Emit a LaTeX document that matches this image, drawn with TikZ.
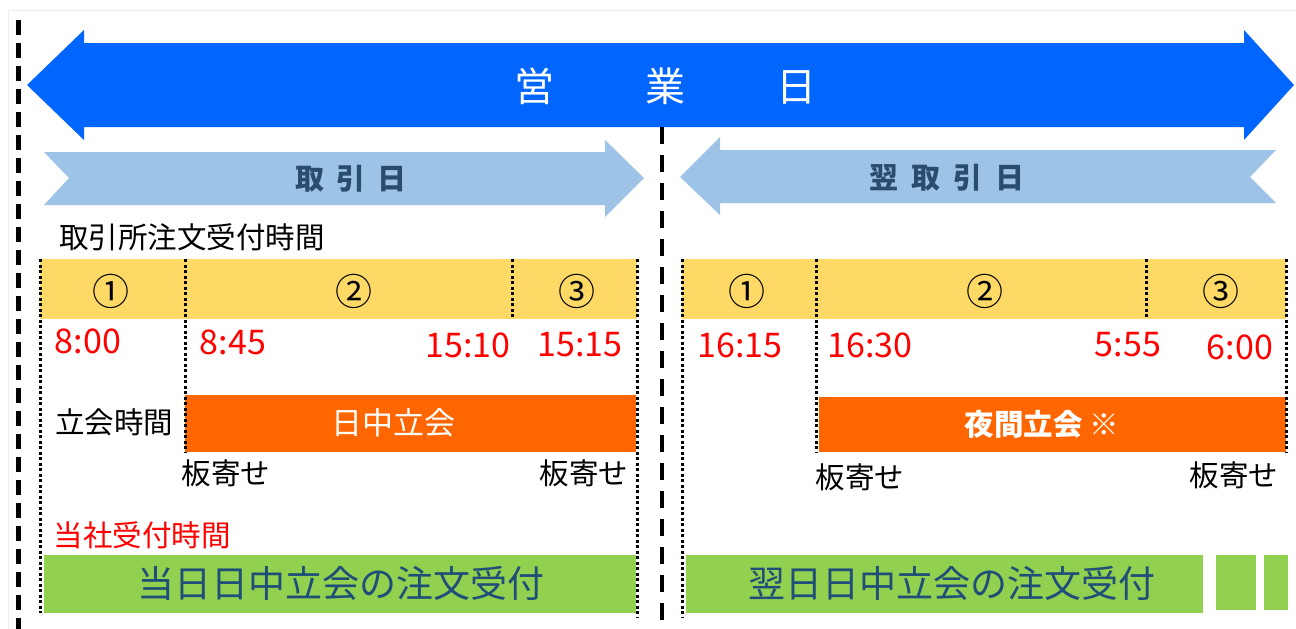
\documentclass[tikz,border=0pt]{standalone}
\usepackage{fontspec}
\newfontfamily\jp{Noto Sans CJK JP}
\definecolor{bigblue}{HTML}{0066FF}
\definecolor{lightblue}{HTML}{9DC3E6}
\definecolor{arrowtxt}{HTML}{2A4D6E}
\definecolor{barYellow}{HTML}{FFD966}
\definecolor{barOrange}{HTML}{FF6600}
\definecolor{barGreen}{HTML}{92D050}
\definecolor{greentxt}{HTML}{1F4E79}
\definecolor{timered}{HTML}{FF0000}
\tikzset{
  lbl/.style={inner sep=0pt, font=\jp\fontsize{29.5}{32}\selectfont},
  timelbl/.style={inner sep=0pt, text=timered, font=\jp\fontsize{34}{36}\selectfont},
  circnum/.style={inner sep=0pt, font=\jp\fontsize{37}{40}\selectfont},
  arrowlbl/.style={inner sep=0pt, text=arrowtxt, font=\jp\bfseries\fontsize{29}{32}\selectfont},
  yellowbar/.style={fill=barYellow, draw=none, inner sep=0pt},
  orangebar/.style={fill=barOrange, draw=none, inner sep=0pt, text=white},
  greenbar/.style={fill=barGreen, draw=none, inner sep=0pt},
  sep/.style={line width=3pt, dash pattern=on 3pt off 2.5pt, black},
  bigdash/.style={line width=5pt, dash pattern=on 15pt off 8pt, black},
  middash/.style={line width=4pt, dash pattern=on 17pt off 11pt, black},
}
\begin{document}
\begin{tikzpicture}[x=1pt,y=-1pt]
\useasboundingbox (0,0) rectangle (1296,629);
% faint frame
\draw[gray!15, line width=1pt] (8,629) -- (8,10) -- (1296,10);

% big blue double arrow
\fill[bigblue] (27,85) -- (84,30) -- (84,43) -- (1244,43) -- (1244,30) -- (1294,85)
  -- (1244,140) -- (1244,127) -- (84,127) -- (84,140) -- cycle;
\node (eigyo) at (665,86) [inner sep=0pt, text=white, font=\jp\fontsize{40}{44}\selectfont]
  {営\hspace{91pt}業\hspace{91pt}日};

% light arrows
\fill[lightblue] (44,152) -- (605,152) -- (605,140) -- (644,178) -- (605,217) -- (605,205)
  -- (44,205) -- (69,178) -- cycle;
\node (torihiki) at (351,179) [arrowlbl] {取\hspace{12pt}引\hspace{12pt}日};
\fill[lightblue] (680,177) -- (720,137) -- (720,150) -- (1276,150) -- (1250,177) -- (1276,203)
  -- (720,203) -- (720,215) -- cycle;
\node (yokutorihiki) at (947,178) [arrowlbl] {翌\hspace{13pt}取\hspace{13pt}引\hspace{13pt}日};

% middle dashed line and left dashed line
\draw[bigdash] (18,20) -- (18,629);
\draw[middash] (662,127) -- (662,629);

% header label
\node (exch) at (192,237) [lbl] {取引所注文受付時間};

% yellow bars
\node (yl) at (338.5,289) [yellowbar, minimum width=597pt, minimum height=60pt] {};
\node (yr) at (984,289) [yellowbar, minimum width=604pt, minimum height=60pt] {};

% orange bars
\node (ol) at (410.5,423.5) [orangebar, minimum width=451pt, minimum height=57pt] {};
\node (olt) at (393,423) [lbl, text=white, font=\jp\fontsize{31}{34}\selectfont] {日中立会};
\node (or) at (1052.5,424.5) [orangebar, minimum width=467pt, minimum height=55pt] {};
\node (ort) at (1042,424) [lbl, text=white, font=\jp\bfseries\fontsize{29.5}{32}\selectfont] {夜間立会 ※};

% green bars
\node (gl) at (340,584) [greenbar, minimum width=592pt, minimum height=58pt] {};
\node (glt) at (341,583) [inner sep=0pt, text=greentxt, font=\jp\fontsize{37}{40}\selectfont] {当日日中立会の注文受付};
\node (gr) at (944.5,584) [greenbar, minimum width=517pt, minimum height=58pt] {};
\node (grt) at (952,583) [inner sep=0pt, text=greentxt, font=\jp\fontsize{37}{40}\selectfont] {翌日日中立会の注文受付};
\node (gb1) at (1236,582.5) [greenbar, minimum width=40pt, minimum height=55pt] {};
\node (gb2) at (1276,582.5) [greenbar, minimum width=24pt, minimum height=55pt] {};

% dotted separators
\draw[sep] (40,259) -- (40,613);
\draw[sep] (185,259) -- (185,452);
\draw[sep] (512,259) -- (512,319);
\draw[sep] (637,259) -- (637,618);
\draw[sep] (682,259) -- (682,618);
\draw[sep] (816,259) -- (816,453);
\draw[sep] (1146,259) -- (1146,319);
\draw[sep] (1286,259) -- (1286,453);

% circled numbers
\node (c1l) at (111,291) [circnum] {①};
\node (c2l) at (354,291) [circnum] {②};
\node (c3l) at (577,291) [circnum] {③};
\node (c1r) at (747,291) [circnum] {①};
\node (c2r) at (985,291) [circnum] {②};
\node (c3r) at (1221,291) [circnum] {③};

% times
\node (t1) at (88,341) [timelbl] {8:00};
\node (t2) at (233,342) [timelbl] {8:45};
\node (t3) at (468,345) [timelbl] {15:10};
\node (t4) at (580,345) [timelbl] {15:15};
\node (t5) at (740,345) [timelbl] {16:15};
\node (t6) at (870,345) [timelbl] {16:30};
\node (t7) at (1128,345) [timelbl] {5:55};
\node (t8) at (1240,347) [timelbl] {6:00};

% labels
\node (tachiai) at (114,422) [lbl] {立会時間};
\node (ita1) at (226,473) [lbl] {板寄せ};
\node (ita2) at (584,473) [lbl] {板寄せ};
\node (ita3) at (860,477) [lbl] {板寄せ};
\node (ita4) at (1234,475) [lbl] {板寄せ};
\node (tosha) at (142,535) [lbl, text=timered] {当社受付時間};
\end{tikzpicture}
\end{document}
